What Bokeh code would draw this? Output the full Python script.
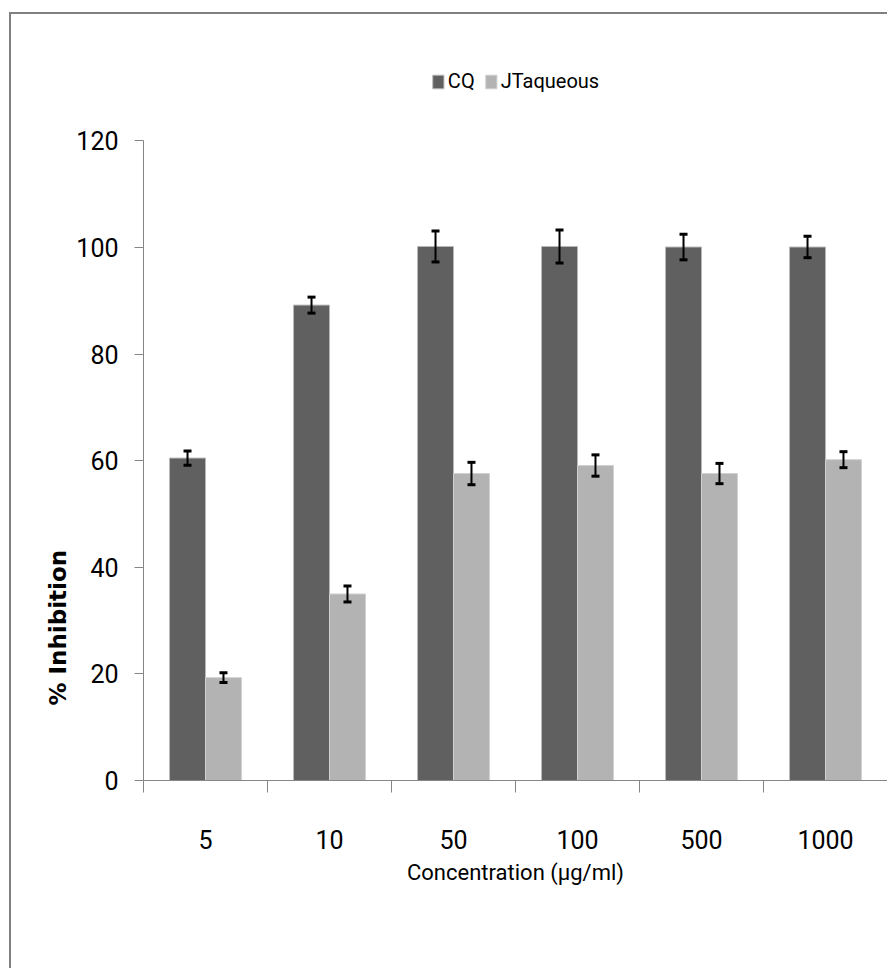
from bokeh.plotting import figure
from bokeh.models import (ColumnDataSource, Range1d, FixedTicker, Whisker, TeeHead,
                          Legend, LegendItem, Title)
from bokeh.transform import dodge
from bokeh.embed import file_html
from bokeh.resources import INLINE

# ---- data ----
categories = ["5", "10", "50", "100", "500", "1000"]
cq_values = [60.5, 89.2, 100.2, 100.2, 100.1, 100.1]
cq_errors = [1.35, 1.5, 2.9, 3.1, 2.4, 2.0]
jt_values = [19.3, 35.0, 57.6, 59.1, 57.6, 60.2]
jt_errors = [0.9, 1.5, 2.1, 2.0, 1.9, 1.5]
y_ticks = [0, 20, 40, 60, 80, 100, 120]
series_names = ["CQ", "JTaqueous"]

FONT = "Roboto"
AXIS_GRAY = "#868686"
Y_AXIS_MAX = 120
# frame extends above the axis top so the legend can sit inside it
Y_FRAME_TOP = 135.1

idx = list(range(len(categories)))
src = ColumnDataSource(dict(
    x=idx,
    cq=cq_values,
    jt=jt_values,
    cq_hi=[v + e for v, e in zip(cq_values, cq_errors)],
    cq_lo=[v - e for v, e in zip(cq_values, cq_errors)],
    jt_hi=[v + e for v, e in zip(jt_values, jt_errors)],
    jt_lo=[v - e for v, e in zip(jt_values, jt_errors)],
))

p = figure(width=878, height=956,
           x_range=Range1d(-0.5, len(categories) - 0.5),
           y_range=Range1d(0, Y_FRAME_TOP),
           output_backend="svg", toolbar_location=None,
           min_border_left=132, min_border_top=46,
           min_border_right=2, min_border_bottom=190,
           outline_line_color=None,
           background_fill_color="white", border_fill_color="white")
p.margin = (12, 0, 0, 9)
p.styles = {"border-left": "2px solid #808080", "border-top": "2px solid #808080"}

p.xgrid.visible = False
p.ygrid.visible = False

BW = 0.29
OFF = 0.145
r_cq = p.vbar(x=dodge("x", -OFF), top="cq", width=BW, source=src,
              fill_color="#606060", line_color="#b8b8b8", line_width=1)
r_jt = p.vbar(x=dodge("x", OFF), top="jt", width=BW, source=src,
              fill_color="#b3b3b3", line_color="#d0d0d0", line_width=1)

for base, hi, lo in ((dodge("x", -OFF), "cq_hi", "cq_lo"), (dodge("x", OFF), "jt_hi", "jt_lo")):
    w = Whisker(source=src, base=base, upper=hi, lower=lo, level="annotation",
                line_color="black", line_width=2,
                upper_head=TeeHead(size=8, line_color="black", line_width=3),
                lower_head=TeeHead(size=8, line_color="black", line_width=3))
    p.add_layout(w)

# x axis: labels at category centres, ticks at category boundaries
xa = p.xaxis[0]
xa.ticker = FixedTicker(ticks=idx,
                        minor_ticks=[i - 0.5 for i in range(len(categories) + 1)])
xa.major_label_overrides = {i: c for i, c in enumerate(categories)}
xa.major_tick_out = 0
xa.major_tick_in = 0
xa.minor_tick_out = 12
xa.minor_tick_in = 0
xa.minor_tick_line_color = AXIS_GRAY
xa.axis_line_color = AXIS_GRAY
xa.major_label_standoff = 37
xa.major_label_text_font = FONT
xa.major_label_text_font_size = "25px"
xa.major_label_text_color = "black"
xa.axis_label = "Concentration (\u00b5g/ml)"
xa.axis_label_text_font = FONT
xa.axis_label_text_font_size = "22px"
xa.axis_label_text_font_style = "normal"
xa.axis_label_text_color = "black"
xa.axis_label_standoff = 8

ya = p.yaxis[0]
ya.ticker = FixedTicker(ticks=y_ticks, minor_ticks=[])
ya.bounds = (0, Y_AXIS_MAX)
ya.major_tick_out = 9
ya.major_tick_in = 0
ya.major_tick_line_color = AXIS_GRAY
ya.axis_line_color = AXIS_GRAY
ya.major_label_standoff = 16
ya.major_label_text_font = FONT
ya.major_label_text_font_size = "25px"
ya.major_label_text_color = "black"

ytitle = Title(text="% Inhibition", align="left", offset=75, standoff=5,
               text_font="DejaVu Sans", text_font_style="bold",
               text_font_size="23px", text_color="black")
p.add_layout(ytitle, "left")

legend = Legend(items=[LegendItem(label=series_names[0], renderers=[r_cq]),
                       LegendItem(label=series_names[1], renderers=[r_jt])],
                orientation="horizontal", location="top_center",
                border_line_color=None, background_fill_alpha=0,
                glyph_width=14, glyph_height=17, label_standoff=3, spacing=9,
                padding=0, margin=9,
                label_text_font=FONT, label_text_font_size="20px",
                label_text_color="black")
p.add_layout(legend, "center")

open("out.html", "w").write(file_html(p, INLINE))
